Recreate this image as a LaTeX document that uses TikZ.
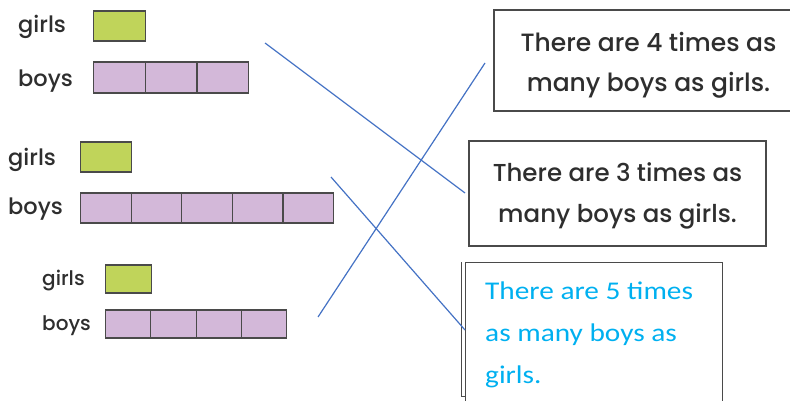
\documentclass[tikz,border=0pt]{standalone}
\usepackage{fontspec}
\setmainfont{Poppins}[UprightFont=* Medium]
\newfontfamily\bluefont{Carlito}[FakeStretch=1.15]
\usetikzlibrary{positioning}

\definecolor{girlgreen}{HTML}{C0D45A}
\definecolor{boypurple}{HTML}{D3B8D9}
\definecolor{barline}{HTML}{4A4A4A}
\definecolor{linkblue}{HTML}{4472C4}
\definecolor{textblue}{HTML}{00B0F0}
\definecolor{textgray}{HTML}{2E2E2E}

\tikzstyle{girl_cell} = [rectangle, draw=barline, line width=1.1pt, fill=girlgreen, inner sep=0pt, anchor=west]
\tikzstyle{boy_cell} = [rectangle, draw=barline, line width=1.1pt, fill=boypurple, inner sep=0pt, anchor=west]
\tikzstyle{bar_label} = [anchor=base west, inner sep=0pt, text=textgray]
\tikzstyle{fact_box} = [rectangle, draw=barline, line width=1.1pt, inner sep=0pt]
\tikzstyle{fact_text} = [text=textgray, align=center, inner sep=0pt, font=\fontsize{25}{40}\selectfont]
\tikzstyle{link} = [draw=linkblue, line width=1.2pt]

\begin{document}
\begin{tikzpicture}[x=1pt, y=-1pt]
    \useasboundingbox (0,0) rectangle (790,401);
    \clip (0,0) rectangle (790,401);

    % first pair: 3 times
    \node (girlsA) [bar_label, font=\fontsize{22.5}{24}\selectfont] at (18,33) {girls};
    \node (boysA)  [bar_label, font=\fontsize{22.5}{24}\selectfont] at (18,87) {boys};
    \node (gA) [girl_cell, minimum width=52pt, minimum height=30pt] at (93,26) {};
    \foreach \i in {0,...,2}
        \node (bA\i) [boy_cell, minimum width=51.7pt, minimum height=31pt] at (93+51.7*\i,77.5) {};

    % second pair: 5 times
    \node (girlsB) [bar_label, font=\fontsize{22.5}{24}\selectfont] at (8,165) {girls};
    \node (boysB)  [bar_label, font=\fontsize{22.5}{24}\selectfont] at (8,214) {boys};
    \node (gB) [girl_cell, minimum width=51pt, minimum height=30pt] at (80,157) {};
    \foreach \i in {0,...,4}
        \node (bB\i) [boy_cell, minimum width=50.6pt, minimum height=30pt] at (80+50.6*\i,208) {};

    % third pair: 4 times
    \node (girlsC) [bar_label, font=\fontsize{20}{22}\selectfont] at (42,285) {girls};
    \node (boysC)  [bar_label, font=\fontsize{20}{22}\selectfont] at (42,330) {boys};
    \node (gC) [girl_cell, minimum width=46pt, minimum height=28pt] at (105,279) {};
    \foreach \i in {0,...,3}
        \node (bC\i) [boy_cell, minimum width=45.25pt, minimum height=28pt] at (105+45.25*\i,324) {};

    % statements
    \node (fourbox)  [fact_box, minimum width=309pt, minimum height=101pt] at (648.5,60.5) {};
    \node (fourtext) [fact_text] at ([yshift=-5pt]fourbox.center)
        {There are 4 times as\\many boys as girls.};
    \node (threebox) [fact_box, minimum width=297pt, minimum height=105pt] at (617.5,193.5) {};
    \node (threetext) [fact_text, font=\fontsize{24.5}{41}\selectfont] at ([yshift=-2.5pt]threebox.center)
        {There are 3 times as\\many boys as girls.};
    \node (fivebox)  [fact_box, anchor=north west, minimum width=257pt, minimum height=170pt] at (465,262) {};
    \draw [draw=barline, line width=1pt] ([xshift=-4pt]fivebox.north west) -- ++(0,134) -- ++(4,0);
    \node (fivetext) [anchor=north west, inner sep=0pt, align=left, text=textblue,
        font=\bluefont\fontsize{25.5}{42}\selectfont] at ([xshift=20pt, yshift=-20pt]fivebox.north west)
        {There are 5 times\\as many boys as\\girls.};

    % matching lines
    \coordinate (startA) at (265,43);
    \coordinate (startB) at (331,177);
    \coordinate (startC) at (318,317);
    \coordinate (endthree) at (465,193);
    \coordinate (endfive) at (465,330);
    \coordinate (endfour) at (485,63);
    \draw [link] (startA) -- (endthree);
    \draw [link] (startB) -- (endfive);
    \draw [link] (startC) -- (endfour);
\end{tikzpicture}
\end{document}
